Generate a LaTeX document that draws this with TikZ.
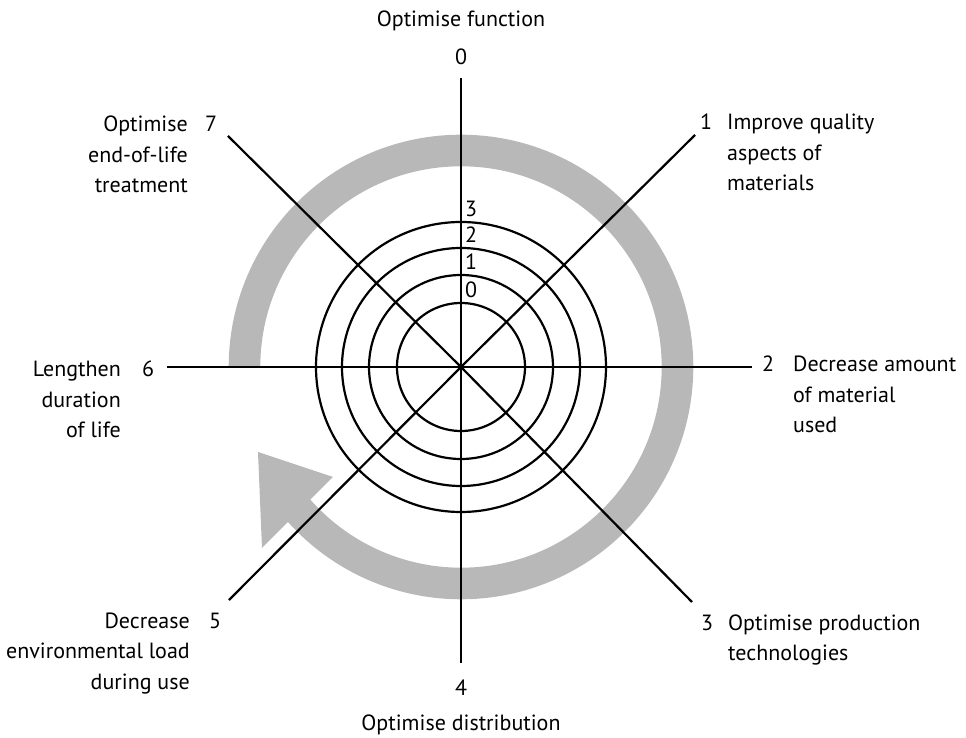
\documentclass[tikz,border=0pt]{standalone}
\usepackage{fontspec}
\setmainfont{PT Sans}
\usetikzlibrary{positioning}
\definecolor{bandgray}{RGB}{184,184,184}

\begin{document}
\begin{tikzpicture}[x=1pt, y=1pt, line width=2.2pt,
    txt/.style={font=\fontsize{22}{30.5}\selectfont, inner sep=0pt},
    num/.style={txt, anchor=base},
    band/.style={draw=bandgray, line width=31.6pt}]
  \useasboundingbox (-461,-371) rectangle (505,367);
  \def\rband{216.5}
  \def\lh{30.5}
  % centre and spoke ends
  \coordinate (O) at (0,0);
  \coordinate (E0) at (0,289);
  \coordinate (E1) at (234,232);
  \coordinate (E2) at (291,0);
  \coordinate (E3) at (231,-235);
  \coordinate (E4) at (0,-296);
  \coordinate (E5) at (-232,-233);
  \coordinate (E6) at (-294,0);
  \coordinate (E7) at (-233,231);
  % grey arrow round the wheel
  \draw[band] (180:\rband) arc[start angle=180, end angle=-139.5, radius=\rband];
  \coordinate (H1) at (-128,-110);
  \coordinate (H2) at (-203,-85);
  \coordinate (H3) at (-199,-181);
  \fill[bandgray] (H1) -- (H2) -- (H3) -- cycle;
  % rings and their levels
  \foreach \r/\k in {64/0, 92/1, 119/2, 145/3} {
    \draw (O) circle[radius=\r];
    \node[txt, anchor=base west] (R\k) at (3,\r+5) {\k};
  }
  % spokes
  \foreach \i in {0,...,7} \draw (O) -- (E\i);
  % numbers at the spoke ends
  \node[num] (N0) at (0,302) {0};
  \node[num] (N1) at (245,237) {1};
  \node[num] (N2) at (307,-5) {2};
  \node[num] (N3) at (246,-263) {3};
  \node[num] (N4) at (0,-328) {4};
  \node[num] (N5) at (-246,-261) {5};
  \node[num] (N6) at (-313,-10) {6};
  \node[num] (N7) at (-250,235) {7};
  % strategies (base of a node is its last line)
  \node[txt, anchor=base] (T0) at (0,340) {Optimise function};
  \node[txt, align=left, base right=13pt of N1, yshift=-2*\lh] (T1) {Improve quality\\aspects of\\materials};
  \node[txt, align=left, base right=17pt of N2, yshift=-2*\lh] (T2) {Decrease amount\\of material\\used};
  \node[txt, align=left, base right=13pt of N3, yshift=-\lh] (T3) {Optimise production\\technologies};
  \node[txt, anchor=base] (T4) at (0,-363) {Optimise distribution};
  \node[txt, align=right, base left=17pt of N5, yshift=-2*\lh] (T5) {Decrease\\environmental load\\during use};
  \node[txt, align=right, base left=19pt of N6, yshift=-2*\lh] (T6) {Lengthen\\duration\\of life};
  \node[txt, align=right, base left=15pt of N7, yshift=-2*\lh] (T7) {Optimise\\end-of-life\\treatment};
\end{tikzpicture}
\end{document}
